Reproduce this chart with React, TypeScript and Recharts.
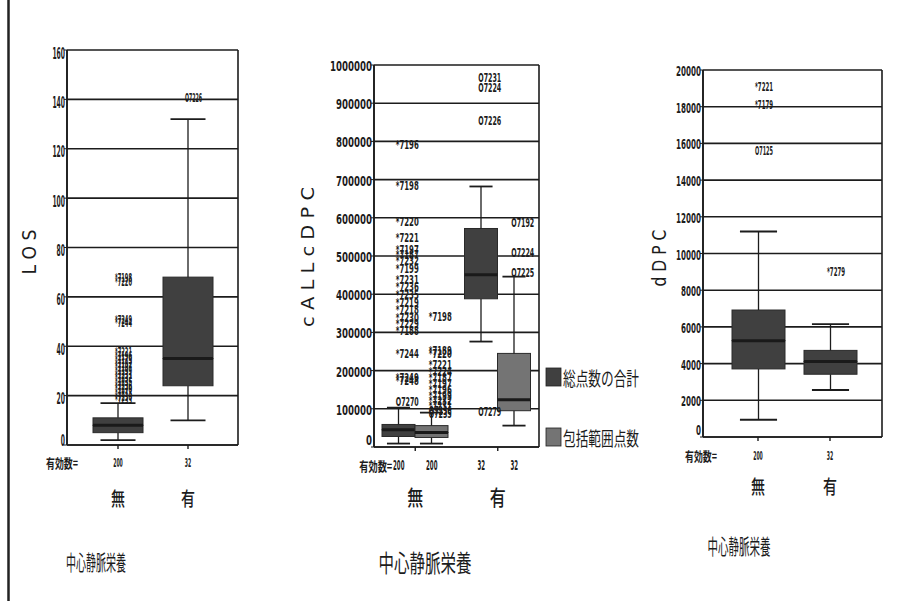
import React from 'react';
import { ComposedChart, Bar, Scatter, XAxis, YAxis, CartesianGrid, Legend } from 'recharts';

// ---------- shared ----------
const groupCategories = ['無', '有'];
const countLabel = '有効数=';
const titleText = '中心静脈栄養';

// ---------- LOS ----------
const losTicks = [0, 20, 40, 60, 80, 100, 120, 140, 160];
const losCounts = [200, 32];
const losMin = [2, 10];
const losQ1 = [5, 24];
const losMedian = [8, 35];
const losQ3 = [11, 68];
const losMax = [17, 132];
const losOutCats = ['無', '無', '無', '無', '無', '無', '無', '無', '無', '無', '無', '無', '無', '無', '無', '無', '無', '無', '有'];
const losOutValues = [67.6, 65.9, 50.7, 49.6, 37.5, 36, 34.5, 33, 31.5, 30, 28.5, 27, 25.5, 24, 22.5, 21, 19.5, 18.3, 140.7];
const losOutLabels = ['*7198', '*7220', '*7249', '*7244', '*7221', '*7196', '*7179', '*7192', '*7197', '*7199', '*7231', '*7232', '*7235', '*7236', '*7270', '*7273', '*7230', '*7233', 'O7226'];

// ---------- ALL DPC (two series) ----------
const dpcTicks = [0, 100000, 200000, 300000, 400000, 500000, 600000, 700000, 800000, 900000, 1000000];
const dpcSeriesNames = ['総点数の合計', '包括範囲点数'];
const totalCounts = [200, 32];
const totalMin = [9000, 276000];
const totalQ1 = [27500, 388000];
const totalMedian = [45000, 451000];
const totalQ3 = [59000, 572000];
const totalMax = [103000, 682000];
const inclCounts = [200, 32];
const inclMin = [9000, 56000];
const inclQ1 = [25000, 95000];
const inclMedian = [38000, 124000];
const inclQ3 = [56000, 245000];
const inclMax = [90000, 446000];
const totalOutCats = ['無', '無', '無', '無', '無', '無', '無', '無', '無', '無', '無', '無', '無', '無', '無', '無', '無', '無', '無', '無', '有', '有', '有', '有'];
const totalOutValues = [792000, 685000, 591000, 549000, 517000, 505000, 488000, 466000, 438000, 420000, 400000, 378000, 360000, 340000, 322000, 305000, 245000, 182000, 175000, 120000, 968000, 940000, 856000, 94000];
const totalOutLabels = ['*7196', '*7198', '*7220', '*7221', '*7197', '*7187', '*7232', '*7199', '*7231', '*7236', '*7235', '*7219', '*7218', '*7230', '*7229', '*7188', '*7244', '*7249', '*7248', 'O7270', 'O7231', 'O7224', 'O7226', 'O7279'];
const inclOutCats = ['無', '無', '無', '無', '無', '無', '無', '無', '無', '無', '無', '無', '無', '有', '有', '有'];
const inclOutValues = [342000, 252000, 245000, 216000, 198000, 182000, 166000, 150000, 136000, 122000, 108000, 96000, 88000, 588000, 510000, 458000];
const inclOutLabels = ['*7198', '*7189', '*7220', '*7221', '*7224', '*7187', '*7197', '*7196', '*7199', '*7232', '*7231', 'O7236', 'O7235', 'O7192', 'O7224', 'O7225'];

// ---------- DPC ----------
const ddpcTicks = [0, 2000, 4000, 6000, 8000, 10000, 12000, 14000, 16000, 18000, 20000];
const ddpcCounts = [200, 32];
const ddpcMin = [940, 2560];
const ddpcQ1 = [3710, 3420];
const ddpcMedian = [5250, 4120];
const ddpcQ3 = [6920, 4720];
const ddpcMax = [11200, 6150];
const ddpcOutCats = ['無', '無', '無', '有'];
const ddpcOutValues = [19100, 18100, 15600, 9000];
const ddpcOutLabels = ['*7221', '*7179', 'O7125', '*7279'];

// ---------- helpers ----------
const NARROW = "'Liberation Sans Narrow', 'DejaVu Sans Condensed', 'Liberation Sans', sans-serif";
const CJK = "'Noto Sans CJK JP', 'Noto Sans CJK SC', sans-serif";
const INK = '#1c1c1c';
const DARK = '#404040';
const LIGHT = '#747474';

function boxFields(prefix: string, mins: number[], q1: number[], med: number[], q3: number[], maxs: number[], i: number) {
  return {
    [prefix + '_base']: mins[i],
    [prefix + '_w1']: q1[i] - mins[i],
    [prefix + '_b1']: med[i] - q1[i],
    [prefix + '_b2']: q3[i] - med[i],
    [prefix + '_w2']: maxs[i] - q3[i],
  };
}

function outlierRows(cats: string[], vals: number[], labels: string[]) {
  return cats.map((c, i) => ({ cat: c, v: vals[i], label: labels[i] }));
}

const losData = groupCategories.map((c, i) => ({ cat: c, ...boxFields('s', losMin, losQ1, losMedian, losQ3, losMax, i) }));
const dpcData = groupCategories.map((c, i) => ({
  cat: c,
  ...boxFields('t', totalMin, totalQ1, totalMedian, totalQ3, totalMax, i),
  ...boxFields('n', inclMin, inclQ1, inclMedian, inclQ3, inclMax, i),
}));
const ddpcData = groupCategories.map((c, i) => ({ cat: c, ...boxFields('s', ddpcMin, ddpcQ1, ddpcMedian, ddpcQ3, ddpcMax, i) }));

const Empty = () => <g />;

const LowerWhisker = (p: any) => {
  const { x, y, width, height } = p;
  const cx = x + width / 2;
  const cap = width * 0.7;
  return (
    <g>
      <line x1={cx} x2={cx} y1={y} y2={y + height} stroke={INK} strokeWidth={1.3} />
      <line x1={cx - cap / 2} x2={cx + cap / 2} y1={y + height} y2={y + height} stroke={INK} strokeWidth={1.8} />
    </g>
  );
};

const UpperWhisker = (p: any) => {
  const { x, y, width, height } = p;
  const cx = x + width / 2;
  const cap = width * 0.7;
  return (
    <g>
      <line x1={cx} x2={cx} y1={y} y2={y + height} stroke={INK} strokeWidth={1.3} />
      <line x1={cx - cap / 2} x2={cx + cap / 2} y1={y} y2={y} stroke={INK} strokeWidth={1.8} />
    </g>
  );
};

const LowerBox = (p: any) => {
  const { x, y, width, height, fill } = p;
  return <rect x={x} y={y} width={width} height={height} fill={fill} stroke="#2a2a2a" strokeWidth={1} />;
};

const UpperBox = (p: any) => {
  const { x, y, width, height, fill } = p;
  return (
    <g>
      <rect x={x} y={y} width={width} height={height} fill={fill} stroke="#2a2a2a" strokeWidth={1} />
      <line x1={x} x2={x + width} y1={y + height} y2={y + height} stroke="#1a1a1a" strokeWidth={3} />
    </g>
  );
};

const makeOutlier = (dx: number, fs: number, charW: number) => (p: any) => {
  const { cx, cy, payload } = p;
  if (cx == null || cy == null || !payload) return <g />;
  const s = String(payload.label);
  return (
    <text
      x={cx + dx - 3}
      y={cy}
      dominantBaseline="central"
      fontSize={fs}
      fontWeight={600}
      fontFamily={NARROW}
      fill={INK}
      textLength={s.length * charW}
      lengthAdjust="spacingAndGlyphs"
    >
      {s}
    </text>
  );
};

const makeYTick = (charW: number, fs: number, dy: number) => (p: any) => {
  const { x, y, payload } = p;
  const s = String(payload.value);
  const extra = payload.value === 0 ? -8 : 0;
  return (
    <text
      x={x + 1}
      y={y + dy + extra}
      textAnchor="end"
      dominantBaseline="central"
      fontSize={fs}
      fontWeight={600}
      fontFamily={NARROW}
      fill={INK}
      textLength={s.length * charW}
      lengthAdjust="spacingAndGlyphs"
    >
      {s}
    </text>
  );
};

const SmallText = ({ x, y, s, w, fs, anchor = 'middle', family = NARROW, weight = 600 }: any) => (
  <text
    x={x}
    y={y}
    textAnchor={anchor}
    dominantBaseline="central"
    fontSize={fs}
    fontWeight={weight}
    fontFamily={family}
    fill={INK}
    textLength={w}
    lengthAdjust="spacingAndGlyphs"
  >
    {s}
  </text>
);

const makeSingleXTick = (counts: number[], countDy: number, catDy: number, labelDx: number) => (p: any) => {
  const { x, y, payload } = p;
  const i = groupCategories.indexOf(payload.value);
  const cnt = String(counts[i]);
  return (
    <g>
      {i === 0 && <SmallText x={x + labelDx} y={y + countDy} s={countLabel} w={32} fs={13} anchor="end" family={CJK} />}
      <SmallText x={x} y={y + countDy} s={cnt} w={cnt.length * 3.2} fs={13} />
      <SmallText x={x} y={y + catDy} s={payload.value} w={14} fs={19} family={CJK} weight={500} />
    </g>
  );
};

const DpcXTick = (p: any) => {
  const { x, y, payload } = p;
  const i = groupCategories.indexOf(payload.value);
  const a = String(totalCounts[i]);
  const b = String(inclCounts[i]);
  return (
    <g>
      {i === 0 && <SmallText x={x - 23} y={y + 14} s={countLabel} w={33} fs={13} anchor="end" family={CJK} />}
      <SmallText x={x - 16.5} y={y + 14} s={a} w={a.length * 3.8} fs={14} />
      <SmallText x={x + 16.5} y={y + 14} s={b} w={b.length * 3.8} fs={14} />
      <SmallText x={x} y={y + 45} s={payload.value} w={16} fs={21} family={CJK} weight={500} />
    </g>
  );
};

const DpcLegend = (props: any) => {
  const items = (props.payload || [])
    .filter((e: any) => e.type !== 'none')
    .slice()
    .sort((a: any, b: any) => dpcSeriesNames.indexOf(a.value) - dpcSeriesNames.indexOf(b.value));
  return (
    <svg width={110} height={90} style={{ display: 'block', overflow: 'visible' }}>
      {items.map((e: any, i: number) => (
        <g key={i} transform={`translate(0, ${i * 60})`}>
          <rect x={1} y={2} width={15} height={18} fill={e.color} stroke="#222" strokeWidth={0.8} />
          <text
            x={18}
            y={11}
            dominantBaseline="central"
            fontSize={19}
            fontFamily={CJK}
            fill={INK}
            textLength={76}
            lengthAdjust="spacingAndGlyphs"
          >
            {e.value}
          </text>
        </g>
      ))}
    </svg>
  );
};

const frameGen = ({ offset }: any) => [offset.left, offset.left + offset.width];

function BoxBars(prefix: string, fill: string, name: string, size: number) {
  return [
    <Bar key={prefix + 'a'} dataKey={prefix + '_base'} stackId={prefix} barSize={size} shape={Empty} fill="none" legendType="none" isAnimationActive={false} />,
    <Bar key={prefix + 'b'} dataKey={prefix + '_w1'} stackId={prefix} barSize={size} shape={LowerWhisker} fill="none" legendType="none" isAnimationActive={false} />,
    <Bar key={prefix + 'c'} dataKey={prefix + '_b1'} stackId={prefix} barSize={size} shape={LowerBox} fill={fill} legendType="none" isAnimationActive={false} />,
    <Bar key={prefix + 'd'} dataKey={prefix + '_b2'} stackId={prefix} barSize={size} shape={UpperBox} fill={fill} name={name} legendType="rect" isAnimationActive={false} />,
    <Bar key={prefix + 'e'} dataKey={prefix + '_w2'} stackId={prefix} barSize={size} shape={UpperWhisker} fill="none" legendType="none" isAnimationActive={false} />,
  ];
}

const gridProps = { stroke: INK, strokeWidth: 1.6, strokeOpacity: 1 };

export default function App() {
  return (
    <div style={{ position: 'absolute', left: 0, top: 0, width: 899, height: 601, background: '#fff', overflow: 'hidden' }}>
      {/* LOS */}
      <div style={{ position: 'absolute', left: 0, top: 0 }}>
        <ComposedChart width={260} height={520} data={losData} margin={{ top: 50, right: 22, bottom: 0, left: 0 }} barGap={0}>
          <CartesianGrid vertical verticalCoordinatesGenerator={frameGen} {...gridProps} />
          <XAxis
            dataKey="cat"
            type="category"
            allowDuplicatedCategory={false}
            height={75}
            padding={{ left: 16, right: 15 }}
            tickSize={4}
            tickMargin={0}
            axisLine={{ stroke: INK, strokeWidth: 1.6 }}
            tickLine={{ stroke: INK, strokeWidth: 1.4 }}
            tick={makeSingleXTick(losCounts, 13, 48, -40)}
            interval={0}
          />
          <YAxis
            type="number"
            domain={[0, 160]}
            ticks={losTicks}
            width={67}
            tickSize={3}
            tickMargin={0}
            axisLine={{ stroke: INK, strokeWidth: 1.6 }}
            tickLine={{ stroke: INK }}
            tick={makeYTick(4.2, 16, 3)}
            interval={0}
          />
          {BoxBars('s', DARK, 'LOS', 50)}
          <Scatter data={outlierRows(losOutCats, losOutValues, losOutLabels)} dataKey="v" legendType="none" isAnimationActive={false} shape={makeOutlier(0, 12, 3.4)} />
        </ComposedChart>
      </div>

      {/* ALL DPC */}
      <div style={{ position: 'absolute', left: 290, top: 0 }}>
        <ComposedChart width={400} height={520} data={dpcData} margin={{ top: 65, right: 151, bottom: 0, left: 0 }} barGap={0}>
          <CartesianGrid vertical verticalCoordinatesGenerator={frameGen} {...gridProps} />
          <XAxis
            dataKey="cat"
            type="category"
            allowDuplicatedCategory={false}
            height={73}
            tickSize={4}
            tickMargin={0}
            axisLine={{ stroke: INK, strokeWidth: 1.6 }}
            tickLine={{ stroke: INK, strokeWidth: 1.4 }}
            tick={DpcXTick}
            interval={0}
          />
          <YAxis
            type="number"
            domain={[0, 1000000]}
            ticks={dpcTicks}
            width={84}
            tickSize={3}
            tickMargin={0}
            axisLine={{ stroke: INK, strokeWidth: 1.6 }}
            tickLine={{ stroke: INK }}
            tick={makeYTick(6, 14, 1)}
            interval={0}
          />
          {BoxBars('t', DARK, dpcSeriesNames[0], 33)}
          {BoxBars('n', LIGHT, dpcSeriesNames[1], 33)}
          <Scatter data={outlierRows(totalOutCats, totalOutValues, totalOutLabels)} dataKey="v" legendType="none" isAnimationActive={false} shape={makeOutlier(-16.5, 13, 4.6)} />
          <Scatter data={outlierRows(inclOutCats, inclOutValues, inclOutLabels)} dataKey="v" legendType="none" isAnimationActive={false} shape={makeOutlier(16.5, 13, 4.6)} />
          <Legend
            layout="vertical"
            align="center"
            verticalAlign="middle"
            content={DpcLegend}
            wrapperStyle={{ left: 255, top: 366, width: 110, height: 90 }}
          />
        </ComposedChart>
      </div>

      {/* dDPC */}
      <div style={{ position: 'absolute', left: 640, top: 0 }}>
        <ComposedChart width={259} height={520} data={ddpcData} margin={{ top: 70, right: 17, bottom: 0, left: 0 }} barGap={0}>
          <CartesianGrid vertical verticalCoordinatesGenerator={frameGen} {...gridProps} />
          <XAxis
            dataKey="cat"
            type="category"
            allowDuplicatedCategory={false}
            height={83}
            padding={{ left: 19, right: 16 }}
            tickSize={4}
            tickMargin={0}
            axisLine={{ stroke: INK, strokeWidth: 1.6 }}
            tickLine={{ stroke: INK, strokeWidth: 1.4 }}
            tick={makeSingleXTick(ddpcCounts, 14, 44, -41)}
            interval={0}
          />
          <YAxis
            type="number"
            domain={[0, 20000]}
            ticks={ddpcTicks}
            width={63}
            tickSize={3}
            tickMargin={0}
            axisLine={{ stroke: INK, strokeWidth: 1.6 }}
            tickLine={{ stroke: INK }}
            tick={makeYTick(5, 14, 1)}
            interval={0}
          />
          {BoxBars('s', DARK, 'dDPC', 53)}
          <Scatter data={outlierRows(ddpcOutCats, ddpcOutValues, ddpcOutLabels)} dataKey="v" legendType="none" isAnimationActive={false} shape={makeOutlier(0, 12, 3.6)} />
        </ComposedChart>
      </div>

      {/* Frame, axis titles and captions */}
      <svg width={899} height={601} style={{ position: 'absolute', left: 0, top: 0, pointerEvents: 'none' }}>
        <line x1={8.5} x2={8.5} y1={0} y2={601} stroke="#222" strokeWidth={2.5} />
        <text transform="translate(29,252) rotate(-90)" textAnchor="middle" dominantBaseline="central" fontSize={20} fontFamily="'DejaVu Sans', sans-serif" fill={INK} textLength={45} lengthAdjust="spacingAndGlyphs">L O S</text>
        <text transform="translate(308,257) rotate(-90)" textAnchor="middle" dominantBaseline="central" fontSize={17} fontFamily="'DejaVu Sans', sans-serif" fill={INK} textLength={140} lengthAdjust="spacingAndGlyphs">c A L L  c D P C</text>
        <text transform="translate(659,258) rotate(-90)" textAnchor="middle" dominantBaseline="central" fontSize={19} fontFamily="'DejaVu Sans', sans-serif" fill={INK} textLength={57} lengthAdjust="spacingAndGlyphs">d D P C</text>
        <text x={96} y={561} textAnchor="middle" dominantBaseline="central" fontSize={21} fontFamily={CJK} fill={INK} textLength={60} lengthAdjust="spacingAndGlyphs">{titleText}</text>
        <text x={425} y={561} textAnchor="middle" dominantBaseline="central" fontSize={24} fontFamily={CJK} fill={INK} textLength={93} lengthAdjust="spacingAndGlyphs">{titleText}</text>
        <text x={739} y={545} textAnchor="middle" dominantBaseline="central" fontSize={21} fontFamily={CJK} fill={INK} textLength={63} lengthAdjust="spacingAndGlyphs">{titleText}</text>
      </svg>
    </div>
  );
}
